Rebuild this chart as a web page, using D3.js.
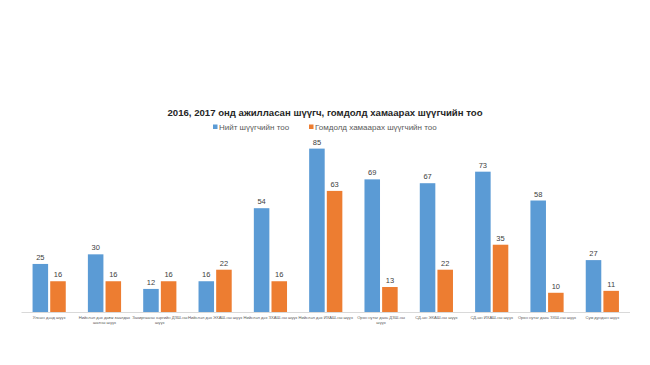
<!DOCTYPE html>
<html><head><meta charset="utf-8">
<script src="https://cdn.jsdelivr.net/npm/d3@7"></script>
<style>body{margin:0;background:#fff}svg{display:block}</style>
</head><body><svg id="c" width="650" height="365"></svg>
<script>
const title = "2016, 2017 онд ажилласан шүүгч, гомдолд хамаарах шүүгчийн тоо";
const categories = [
  ["Улсын дээд шүүх"],
  ["Нийслэл дэх давж заалдах", "шатны шүүх"],
  ["Захиргааны хэргийн ДЗШ-ны", "шүүх"],
  ["Нийслэл дэх ЭХАШ-ны шүүх"],
  ["Нийслэл дэх ЗХАШ-ны шүүх"],
  ["Нийслэл дэх ИХАШ-ны шүүх"],
  ["Орон нутаг дахь ДЗШ-ны", "шүүх"],
  ["СД-ын ЭХАШ-ны шүүх"],
  ["СД-ын ИХАШ-ны шүүх"],
  ["Орон нутаг дахь ЗХШ-ны шүүх"],
  ["Сум дундын шүүх"]
];
const seriesNames = ["Нийт шүүгчийн  тоо", "Гомдолд хамаарах шүүгчийн  тоо"];
const totalJudges = [25, 30, 12, 16, 54, 85, 69, 67, 73, 58, 27];
const complaintJudges = [16, 16, 16, 22, 16, 63, 13, 22, 35, 10, 11];
const colors = ["#5B9BD5", "#ED7D31"];

const svg = d3.select("#c");
const font = "'Liberation Sans', Arial, sans-serif";
const x0 = d3.scaleBand().domain(d3.range(categories.length)).range([21.5, 630]).paddingInner(0.4).paddingOuter(0.2);
const x1 = d3.scaleBand().domain([0,1]).range([0, x0.bandwidth()]).paddingInner(0.12);
const y = d3.scaleLinear().domain([0, 90]).range([312, 139]);

// axis line
svg.append("line").attr("x1", 21.5).attr("x2", 630).attr("y1", 312.5).attr("y2", 312.5)
  .attr("stroke", "#d9d9d9").attr("stroke-width", 1);

const series = [totalJudges, complaintJudges];
series.forEach((vals, s) => {
  const g = svg.append("g");
  g.selectAll("rect").data(vals).join("rect")
    .attr("x", (d, i) => x0(i) + x1(s))
    .attr("width", x1.bandwidth())
    .attr("y", d => y(d))
    .attr("height", d => y(0) - y(d))
    .attr("fill", colors[s]);
  g.selectAll("text").data(vals).join("text")
    .attr("x", (d, i) => x0(i) + x1(s) + x1.bandwidth() / 2)
    .attr("y", d => y(d) - 4)
    .attr("text-anchor", "middle")
    .attr("font-family", font).attr("font-size", 7.5).attr("fill", "#404040")
    .text(d => d);
});

// category labels
const lab = svg.append("g");
categories.forEach((lines, i) => {
  const cx = x0(i) + x0.bandwidth() / 2;
  const t = lab.append("text")
    .attr("x", cx)
    .attr("y", 319)
    .attr("text-anchor", "middle")
    .attr("font-family", font).attr("font-size", 4.1).attr("fill", "#595959");
  lines.forEach((l, k) => t.append("tspan").attr("x", cx).attr("dy", k ? 5.2 : 0).text(l));
});

// title
svg.append("text").attr("x", 325).attr("y", 115.5).attr("text-anchor", "middle")
  .attr("font-family", font).attr("font-size", 9.6).attr("fill", "#262626")
  .attr("font-weight", "bold")
  .text(title);

// legend
const legendX = [213, 309];
seriesNames.forEach((n, i) => {
  svg.append("rect").attr("x", legendX[i]).attr("y", 124.5).attr("width", 4.5).attr("height", 4.5).attr("fill", colors[i]);
  svg.append("text").attr("x", legendX[i] + 6).attr("y", 129.5)
    .attr("font-family", font).attr("font-size", 8).attr("fill", "#595959")
    .text(n);
});
</script></body></html>
